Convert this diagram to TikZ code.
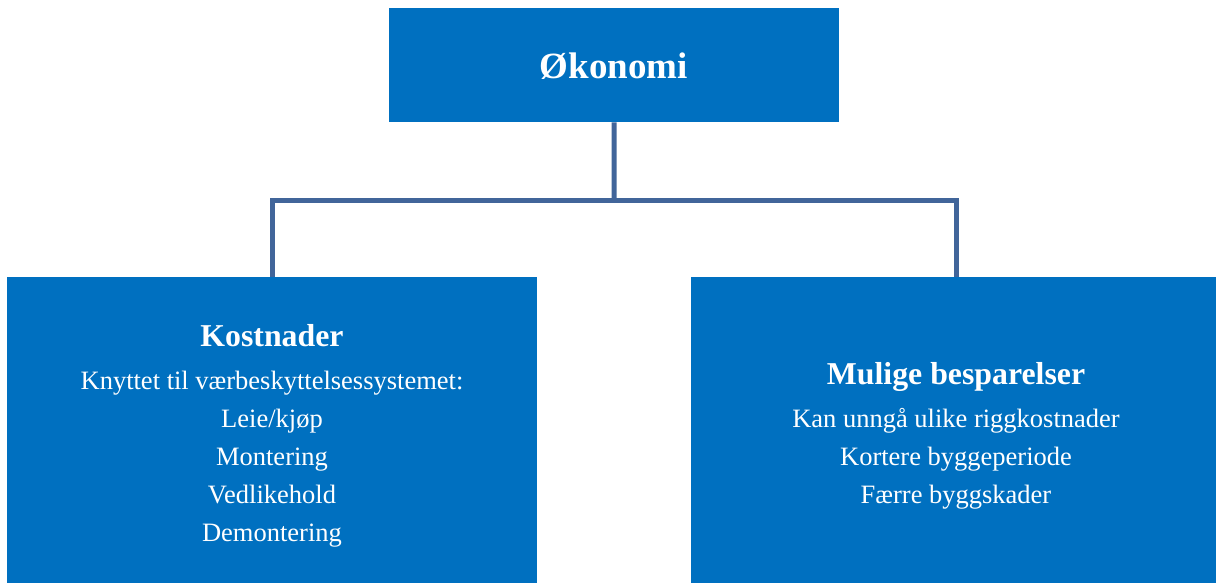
\documentclass[tikz,border=0pt]{standalone}
\usepackage{fontspec}
\setmainfont{Liberation Serif}
\definecolor{boxblue}{HTML}{0070C0}
\definecolor{linkblue}{HTML}{41659A}
\begin{document}
\begin{tikzpicture}[x=1pt,y=-1pt,
  box/.style={draw=none,fill=boxblue,inner sep=0pt,anchor=north west},
  title/.style={text=white,anchor=base,font=\fontsize{37}{44}\selectfont\bfseries},
  heading/.style={text=white,anchor=base,font=\fontsize{31.8}{38}\selectfont\bfseries},
  item/.style={text=white,anchor=base,font=\fontsize{26.5}{32}\selectfont},
  link/.style={draw=linkblue,line width=5pt}]
\useasboundingbox (0,0) rectangle (1216,583);
% boxes
\node[box,minimum width=450pt,minimum height=114pt] (top) at (389,8) {};
\node[box,minimum width=530pt,minimum height=306pt] (left) at (7,277) {};
\node[box,minimum width=525pt,minimum height=306pt] (right) at (691,277) {};
% connectors
\coordinate (hub) at (614,200);
\draw[link] (top.south) -- (hub);
\draw[link] (272,277) |- (hub) -| (956,277);
% texts
\node[title] (t0) at (614,78.5) {Økonomi};
\node[heading] (h1) at (272,346) {Kostnader};
\node[item] (l1) at (272,389) {Knyttet til værbeskyttelsessystemet:};
\node[item] (l2) at (272,427) {Leie/kjøp};
\node[item] (l3) at (272,465) {Montering};
\node[item] (l4) at (272,503) {Vedlikehold};
\node[item] (l5) at (272,541) {Demontering};
\node[heading] (h2) at (956,384) {Mulige besparelser};
\node[item] (r1) at (956,427) {Kan unngå ulike riggkostnader};
\node[item] (r2) at (956,465) {Kortere byggeperiode};
\node[item] (r3) at (956,503) {Færre byggskader};
\end{tikzpicture}
\end{document}
